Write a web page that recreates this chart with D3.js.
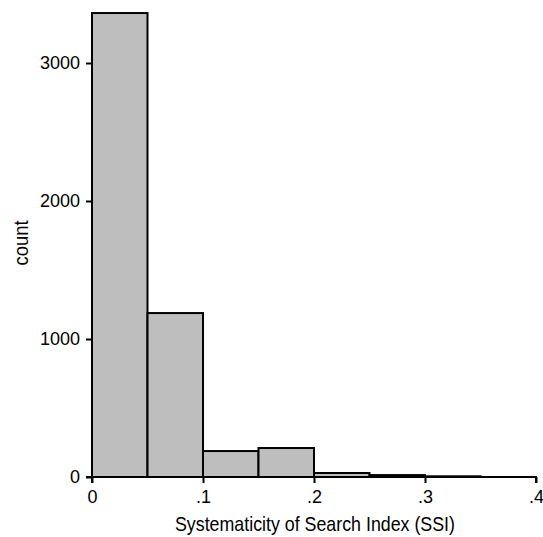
<!DOCTYPE html>
<html><head><meta charset="utf-8">
<script src="https://cdn.jsdelivr.net/npm/d3@7"></script>
<style>body{margin:0;background:#fff}text{font-family:"Liberation Sans",Arial,sans-serif;}</style>
</head><body><svg id="c" width="543" height="537"></svg>
<script>
const binEdges = [0, 0.05, 0.1, 0.15, 0.2, 0.25, 0.3, 0.35];
const counts = [3362, 1188, 188, 210, 29, 14, 5];
const xTicks = [0, 0.1, 0.2, 0.3, 0.4];
const xTickLabels = ["0", ".1", ".2", ".3", ".4"];
const yTicks = [0, 1000, 2000, 3000];

const svg = d3.select("#c");
const x = d3.scaleLinear().domain([0, 0.4]).range([92, 536]);
const y = d3.scaleLinear().domain([0, 3000]).range([477, 63]);

svg.append("g").selectAll("rect").data(counts).join("rect")
  .attr("x", (d,i)=>x(binEdges[i]))
  .attr("width", (d,i)=>x(binEdges[i+1])-x(binEdges[i]))
  .attr("y", d=>y(d))
  .attr("height", d=>y(0)-y(d))
  .attr("fill", "#bebebe").attr("stroke", "#000").attr("stroke-width", 2);

const fs = "18px";
const xa = svg.append("g").attr("transform", `translate(0,${y(0)})`)
  .call(d3.axisBottom(x).tickValues(xTicks).tickFormat((d,i)=>xTickLabels[i]).tickSize(6).tickPadding(3));
const ya = svg.append("g").attr("transform", `translate(${x(0)},0)`)
  .call(d3.axisLeft(y).tickValues(yTicks).tickSize(6).tickPadding(6).tickFormat(d3.format("d")));
[xa, ya].forEach(a=>{
  a.select(".domain").attr("stroke","#000").attr("stroke-width",2);
  a.selectAll(".tick line").attr("stroke","#000").attr("stroke-width",2);
  a.selectAll("text").attr("fill","#000").style("font-size",fs).style("font-family",'"Liberation Sans",Arial,sans-serif');
});
xa.selectAll(".tick text").attr("y", 26).attr("dy", 0);
xa.select(".domain").attr("d", `M${x(0)},6V0H${x(0.4)}V6`);
ya.select(".domain").attr("d", `M-6,${y(0)}H0V${y(0)}`);

svg.append("text").attr("x", 315).attr("y", 531).attr("text-anchor","middle")
  .attr("textLength", 280).attr("lengthAdjust", "spacingAndGlyphs")
  .style("font-size", "21px").text("Systematicity of Search Index (SSI)");
svg.append("text").attr("transform", `translate(28,243) rotate(-90)`).attr("text-anchor","middle")
  .attr("textLength", 45).attr("lengthAdjust", "spacingAndGlyphs")
  .style("font-size", "21px").text("count");
</script></body></html>
